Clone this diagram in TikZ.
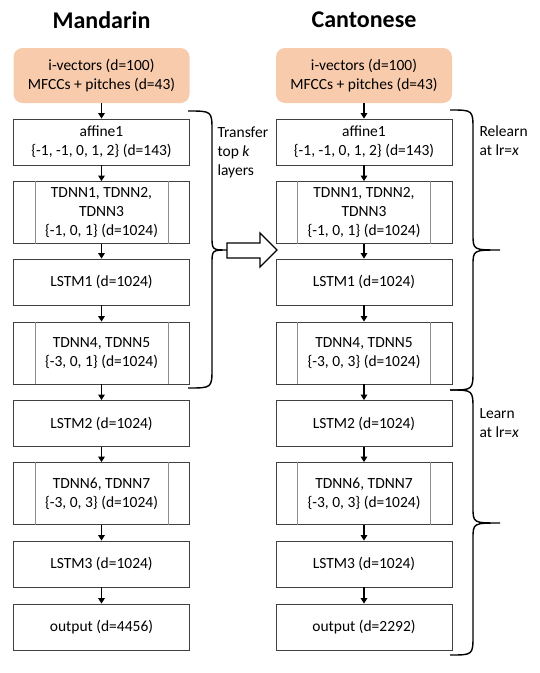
\documentclass[tikz,border=0pt]{standalone}
\usepackage{fontspec}
\setmainfont{Carlito}
\usetikzlibrary{arrows.meta}
\definecolor{inpfill}{RGB}{248,203,173}
\newcommand{\bodyfont}{\fontsize{15.5pt}{19pt}\selectfont}
\newcommand{\titlefont}{\fontsize{24pt}{28pt}\selectfont\bfseries}
\tikzset{
  layer/.style={draw=black!75, line width=0.8pt, minimum width=176pt, minimum height=46pt, inner sep=2pt, align=center, font=\bodyfont},
  dlayer/.style={layer, minimum height=62pt},
  inp/.style={fill=inpfill, rounded corners=9pt, minimum width=176pt, minimum height=55pt, align=center, font=\bodyfont},
  flow/.style={-{Triangle[length=5.5pt,width=6.5pt]}, line width=1.4pt},
  sep/.style={draw=black!45, line width=0.8pt},
  brace/.style={line width=1.4pt},
  lbl/.style={align=left, anchor=west, font=\bodyfont}
}
\begin{document}
\begin{tikzpicture}[x=1pt,y=-1pt]
\useasboundingbox (0,0) rectangle (540,673);

\node[font=\titlefont] (mtitle) at (101.5,20) {Mandarin};
\node[font=\titlefont] (ctitle) at (364,20) {Cantonese};

% Mandarin
\node[inp] (m0) at (101.5,75.5) {i-vectors (d=100)\\MFCCs + pitches (d=43)};
\node[layer] (m1) at (101.5,142) {affine1\\\{-1, -1, 0, 1, 2\} (d=143)};
\node[dlayer] (m2) at (101.5,212.5) {TDNN1, TDNN2,\\TDNN3\\\{-1, 0, 1\} (d=1024)};
\node[layer] (m3) at (101.5,282) {LSTM1 (d=1024)};
\node[dlayer] (m4) at (101.5,353) {TDNN4, TDNN5\\\{-3, 0, 1\} (d=1024)};
\node[layer] (m5) at (101.5,423.5) {LSTM2 (d=1024)};
\node[dlayer] (m6) at (101.5,493.5) {TDNN6, TDNN7\\\{-3, 0, 3\} (d=1024)};
\node[layer] (m7) at (101.5,564) {LSTM3 (d=1024)};
\node[layer] (m8) at (101.5,627) {output (d=4456)};

% Cantonese
\node[inp] (c0) at (364,75.5) {i-vectors (d=100)\\MFCCs + pitches (d=43)};
\node[layer] (c1) at (364,142) {affine1\\\{-1, -1, 0, 1, 2\} (d=143)};
\node[dlayer] (c2) at (364,212.5) {TDNN1, TDNN2,\\TDNN3\\\{-1, 0, 1\} (d=1024)};
\node[layer] (c3) at (364,282) {LSTM1 (d=1024)};
\node[dlayer] (c4) at (364,353) {TDNN4, TDNN5\\\{-3, 0, 3\} (d=1024)};
\node[layer] (c5) at (364,423.5) {LSTM2 (d=1024)};
\node[dlayer] (c6) at (364,493.5) {TDNN6, TDNN7\\\{-3, 0, 3\} (d=1024)};
\node[layer] (c7) at (364,564) {LSTM3 (d=1024)};
\node[layer] (c8) at (364,627) {output (d=2292)};

\foreach \n in {m2,m4,m6,c2,c4,c6} {
  \draw[sep] ([xshift=22pt]\n.north west) -- ([xshift=22pt]\n.south west);
  \draw[sep] ([xshift=-22pt]\n.north east) -- ([xshift=-22pt]\n.south east);
}
\foreach \a/\b in {0/1,1/2,2/3,3/4,4/5,5/6,6/7,7/8} {
  \draw[flow] (m\a.south) -- (m\b.north);
  \draw[flow] (c\a.south) -- (c\b.north);
}

% braces
\draw[brace] (188,111) .. controls (212,111) .. (212,131) -- (212,236) .. controls (212,250) .. (228,250)
  .. controls (212,250) .. (212,264) -- (212,368) .. controls (212,388) .. (188,388);
\draw[brace] (450,110) .. controls (473,110) .. (473,130) -- (473,234) .. controls (473,250) .. (500,250)
  .. controls (473,250) .. (473,266) -- (473,370) .. controls (473,390) .. (450,390);
\draw[brace] (450,390) .. controls (473,390) .. (473,410) -- (473,507) .. controls (473,523) .. (500,523)
  .. controls (473,523) .. (473,539) -- (473,635) .. controls (473,655) .. (450,655);

% transfer arrow
\draw[line width=1.4pt, fill=white] (227,243) -- (260,243) -- (260,233) -- (277,250) -- (260,267) -- (260,258) -- (227,258) -- cycle;

\node[lbl] (xferlbl) at (214,152) {Transfer\\top \textit{k}\\layers};
\node[lbl] (relbl) at (476,141) {Relearn\\at lr=\textit{x}};
\node[lbl] (lelbl) at (476,423) {Learn\\at lr=\textit{x}};
\end{tikzpicture}
\end{document}
